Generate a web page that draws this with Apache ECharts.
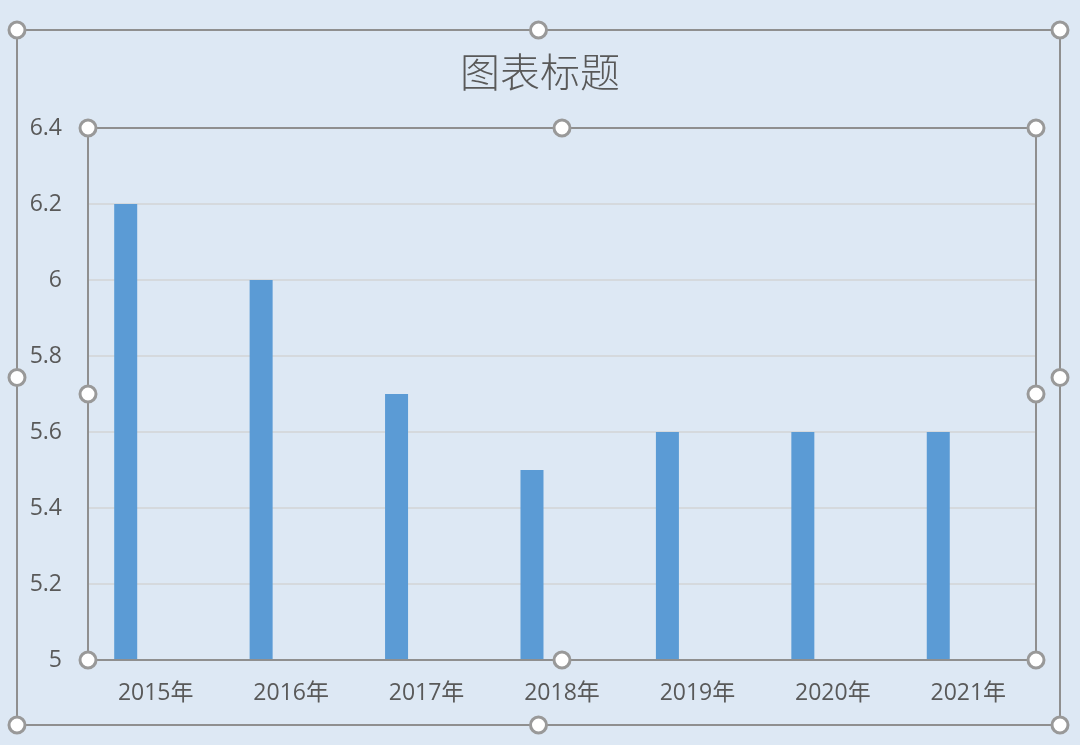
<!DOCTYPE html>
<html>
<head>
<meta charset="utf-8">
<script src="https://cdn.jsdelivr.net/npm/echarts@6/dist/echarts.min.js"></script>
<style>
html,body{margin:0;padding:0;background:#dde8f4;}
#c{width:1080px;height:745px;}
</style>
</head>
<body>
<div id="c"></div>
<script>
const categories = ['2015年','2016年','2017年','2018年','2019年','2020年','2021年'];
const values = [6.2, 6.0, 5.7, 5.5, 5.6, 5.6, 5.6];
const emptySeries = ['-','-','-','-','-','-','-'];
const yTicks = { min: 5, max: 6.4, interval: 0.2 };

const chart = echarts.init(document.getElementById('c'));
const handleStyle = { fill: '#ffffff', stroke: '#999999', lineWidth: 3 };
function handle(x, y) {
  return { type: 'circle', shape: { cx: x, cy: y, r: 8 }, style: handleStyle, z: 100 };
}
const outer = [17, 30, 1060, 725];
const plot = [88, 128, 1036, 660];
const graphics = [
  { type: 'rect', shape: { x: outer[0], y: outer[1], width: outer[2]-outer[0], height: outer[3]-outer[1] },
    style: { fill: 'none', stroke: '#8f8f8f', lineWidth: 2 }, z: 90 },
  { type: 'rect', shape: { x: plot[0], y: plot[1], width: plot[2]-plot[0], height: plot[3]-plot[1] },
    style: { fill: 'none', stroke: '#8f8f8f', lineWidth: 2 }, z: 90 }
];
[[outer[0],outer[1]],[(outer[0]+outer[2])/2,outer[1]],[outer[2],outer[1]],
 [outer[0],(outer[1]+outer[3])/2],[outer[2],(outer[1]+outer[3])/2],
 [outer[0],outer[3]],[(outer[0]+outer[2])/2,outer[3]],[outer[2],outer[3]],
 [plot[0],plot[1]],[(plot[0]+plot[2])/2,plot[1]],[plot[2],plot[1]],
 [plot[0],(plot[1]+plot[3])/2],[plot[2],(plot[1]+plot[3])/2],
 [plot[0],plot[3]],[(plot[0]+plot[2])/2,plot[3]],[plot[2],plot[3]]
].forEach(p => graphics.push(handle(p[0], p[1])));

chart.setOption({
  backgroundColor: '#dde8f4',
  animation: false,
  title: {
    text: '图表标题', left: 'center', top: 47,
    textStyle: { fontFamily: 'Noto Sans CJK SC', fontWeight: 300, fontSize: 40, color: '#595959' }
  },
  grid: { left: 88, right: 44, top: 128, bottom: 85 },
  xAxis: {
    type: 'category', data: categories,
    axisLine: { show: true, lineStyle: { color: '#8f8f8f', width: 2 } },
    axisTick: { show: false },
    axisLabel: { color: '#595959', fontSize: 23, margin: 22, fontFamily: 'Open Sans, Noto Sans CJK SC' }
  },
  yAxis: {
    type: 'value', min: yTicks.min, max: yTicks.max, interval: yTicks.interval,
    axisLine: { show: false }, axisTick: { show: false },
    axisLabel: { color: '#595959', fontSize: 23, margin: 26, fontFamily: 'Open Sans, Noto Sans CJK SC',
      formatter: v => String(Math.round(v * 10) / 10) },
    splitLine: { lineStyle: { color: '#d5d9dd', width: 2 } }
  },
  series: [
    { type: 'bar', data: values, barWidth: 23, barGap: '161%', itemStyle: { color: '#5b9bd5' } },
    { type: 'bar', data: emptySeries, barWidth: 23, itemStyle: { color: '#ed7d31' } }
  ],
  graphic: graphics
});
</script>
</body>
</html>
